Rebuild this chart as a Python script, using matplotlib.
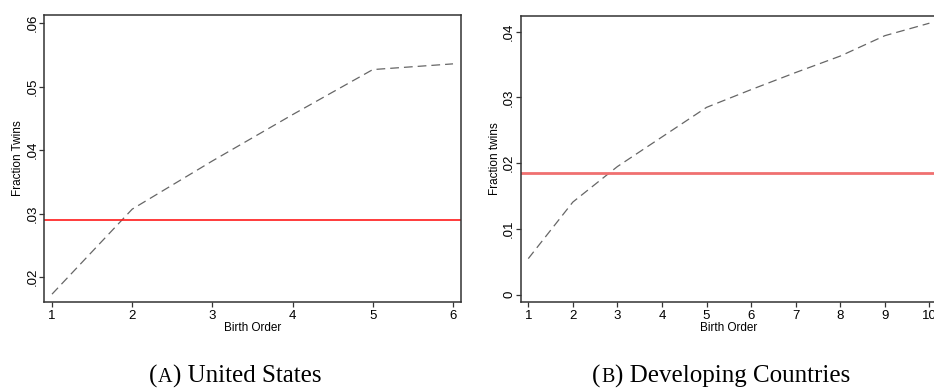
import matplotlib
matplotlib.use("Agg")
import matplotlib.pyplot as plt
from matplotlib.offsetbox import TextArea, HPacker, AnnotationBbox

# panel A: United States
us_order = [1, 2, 3, 4, 5, 6]
us_twins = [0.0173, 0.0307, 0.0383, 0.0456, 0.0527, 0.0536]
us_mean = 0.0290
us_yticks = [0.02, 0.03, 0.04, 0.05, 0.06]
us_ylabels = [".02", ".03", ".04", ".05", ".06"]

# panel B: developing countries
dc_order = [1, 2, 3, 4, 5, 6, 7, 8, 9, 10]
dc_twins = [0.0055, 0.0141, 0.0195, 0.0240, 0.0285, 0.0312, 0.0338, 0.0363, 0.0394, 0.0413]
dc_mean = 0.0185
dc_yticks = [0.0, 0.01, 0.02, 0.03, 0.04]
dc_ylabels = ["0", ".01", ".02", ".03", ".04"]

plt.rcParams["font.family"] = ["Liberation Sans", "DejaVu Sans"]

fig = plt.figure(figsize=(9.34, 3.9), dpi=100)
ax1 = fig.add_axes([0.0471, 0.2256, 0.4465, 0.7359])
ax2 = fig.add_axes([0.5575, 0.2256, 0.4457, 0.7340])


def style_axis(ax, ylabel):
    for sp in ax.spines.values():
        sp.set_color("#333333")
        sp.set_linewidth(1.1)
    ax.tick_params(axis="both", length=3.6, width=0.9, color="#333333",
                   labelsize=9.5)
    ax.tick_params(axis="y", pad=0.5)
    ax.tick_params(axis="x", pad=2)
    for lab in ax.get_yticklabels():
        lab.set_rotation(90)
        lab.set_va("center")
    ax.set_xlabel("Birth Order", fontsize=8.5, labelpad=0)
    ax.set_ylabel(ylabel, fontsize=8.5, labelpad=1.5)


def caption(x, letter, rest):
    # "(A)" style label with a small-caps letter
    serif = dict(family="Liberation Serif", color="black")
    parts = [
        TextArea("(", textprops=dict(fontsize=18, **serif)),
        TextArea(letter, textprops=dict(fontsize=14.5, **serif)),
        TextArea(") " + rest, textprops=dict(fontsize=18, **serif)),
    ]
    box = HPacker(children=parts, align="baseline", pad=0, sep=0.5)
    ab = AnnotationBbox(box, (x, 0.006), xycoords="figure fraction",
                        box_alignment=(0.5, 0.0), frameon=False, pad=0)
    fig.add_artist(ab)


ax1.plot(us_order, us_twins, ls=(0, (7, 4)), color="#666666", lw=0.9)
ax1.axhline(us_mean, color="#ff1a1a", lw=1.2)
ax1.set_xlim(0.9, 6.1)
ax1.set_ylim(0.01606, 0.0613)
ax1.set_xticks(us_order)
ax1.set_yticks(us_yticks)
ax1.set_yticklabels(us_ylabels)
style_axis(ax1, "Fraction Twins")

ax2.plot(dc_order, dc_twins, ls=(0, (7, 4)), color="#666666", lw=0.9)
ax2.axhline(dc_mean, color="#f07070", lw=2.0)
ax2.set_xlim(0.83, 10.17)
ax2.set_ylim(-0.0011, 0.04243)
ax2.set_xticks(dc_order)
ax2.set_yticks(dc_yticks)
ax2.set_yticklabels(dc_ylabels)
style_axis(ax2, "Fraction twins")

caption(0.2516, "A", "United States")
caption(0.7725, "B", "Developing Countries")

fig.savefig("out.png", dpi=100)
